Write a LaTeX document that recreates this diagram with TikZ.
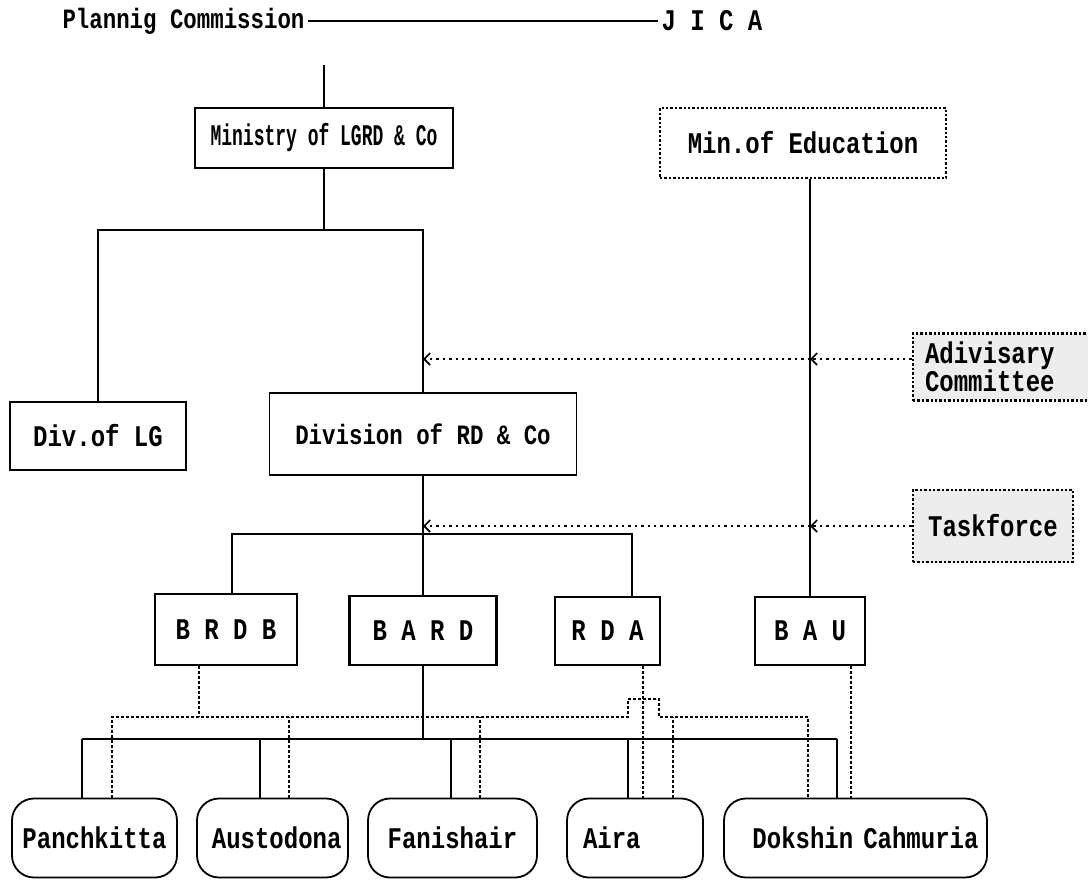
\documentclass[tikz,border=0pt]{standalone}
\usepackage{fontspec}
\newfontfamily\chartfont[FakeStretch=0.8]{Liberation Mono}
\newfontfamily\narrowfont[FakeStretch=0.6]{Liberation Mono}
\usetikzlibrary{arrows.meta}

\tikzset{
  every node/.style={font=\chartfont\bfseries\fontsize{30}{31}\selectfont},
  office/.style={draw, line width=1.8pt, inner sep=0pt},
  outside/.style={draw, dash pattern=on 2.4pt off 2pt, line width=2.4pt, inner sep=0pt},
  village/.style={draw, rounded corners=22pt, line width=1.8pt, inner sep=0pt, minimum height=79pt},
  orgline/.style={line width=1.8pt},
  dotline/.style={dash pattern=on 2.6pt off 2.4pt, line width=2.6pt},
  adviceline/.style={dash pattern=on 2.4pt off 4pt, line width=2.4pt, -{Straight Barb[length=6pt,width=12pt,line width=1.6pt]}},
}

\begin{document}
\begin{tikzpicture}[x=1pt,y=-1pt]
  \useasboundingbox (0,0) rectangle (1088,879);

  % top
  \node[anchor=east, font=\chartfont\bfseries\fontsize{28}{30}\selectfont] (plan) at (308,21) {Plannig Commission};
  \node[anchor=west] (jica) at (658,21) {J I C A};
  \draw[orgline] (plan) -- (jica);
  \coordinate (pc) at (324,65);

  % ministries
  \node[office, minimum width=258pt, minimum height=60pt, font=\narrowfont\bfseries\fontsize{30}{31}\selectfont] (min) at (324,138) {Ministry of LGRD \& Co};
  \node[outside, minimum width=286pt, minimum height=70pt] (mined) at (803,143) {Min.of Education};
  \node[office, minimum width=176pt, minimum height=68pt] (divlg) at (98,436) {Div.of LG};
  \node[office, minimum width=307pt, minimum height=82pt, font=\chartfont\bfseries\fontsize{28}{30}\selectfont] (divrd) at (423,434) {Division of RD \& Co};

  % advisory bodies
  \node[outside, fill=black!7, minimum width=187pt, minimum height=67pt, align=left, text width=163pt,
        font=\chartfont\bfseries\fontsize{30}{28}\selectfont] (adv) at (1006.5,367) {Adivisary\\Committee};
  \node[outside, fill=black!7, minimum width=160pt, minimum height=72pt] (task) at (993,526) {Taskforce};

  % institutes
  \node[office, minimum width=142pt, minimum height=71pt] (brdb) at (226,629.5) {B R D B};
  \node[office, line width=2.6pt, minimum width=147pt, minimum height=69pt] (bard) at (423,630.5) {B A R D};
  \node[office, minimum width=105pt, minimum height=68pt] (rda) at (607.5,631) {R D A};
  \node[office, minimum width=110pt, minimum height=68pt] (bau) at (810,631) {B A U};

  % villages
  \node[village, minimum width=165pt] (pan) at (94.5,838) {Panchkitta};
  \node[village, minimum width=151pt, text width=138pt, align=right] (aus) at (272.5,838) {Austodona};
  \node[village, minimum width=169pt] (fan) at (452.5,838) {Fanishair};
  \node[village, minimum width=136pt, text width=104pt, align=left] (aira) at (635,838) {Aira};
  \node[village, minimum width=263pt, text width=246pt, align=right] (dok) at (855.5,838) {Dokshin Cahmuria};

  % line of command
  \coordinate (mj) at (324,230);
  \coordinate (rb) at (423,534);
  \coordinate (sb) at (423,739);
  \coordinate (db) at (423,717);
  \draw[orgline] (pc) -- (min);
  \draw[orgline] (min) -- (mj);
  \draw[orgline] (divlg) |- (mj) -| (divrd);
  \draw[orgline] (divrd) -- (bard);
  \draw[orgline] ([xshift=6pt]brdb.north) |- (rb) -| ([xshift=24.5pt]rda.north);
  \draw[orgline] (mined.south -| bau) -- (bau);
  \draw[orgline] (bard) -- (sb);
  \draw[orgline] ([xshift=-12.5pt]pan.north |- sb) -- ([xshift=-18.5pt]dok.north |- sb);
  \foreach \v/\dx in {pan/-12.5,aus/-12.5,fan/-1.5,aira/-7,dok/-18.5}
    \draw[orgline] ([xshift=\dx pt]\v.north) -- ([xshift=\dx pt]\v.north |- sb);

  % advice
  \coordinate (advline) at (0,359);
  \draw[adviceline] (adv.west |- advline) -- (bau |- advline);
  \draw[adviceline] (bau |- advline) -- (bard |- advline);
  \draw[adviceline] (task.west) -- (task.west -| bau);
  \draw[adviceline] (task.west -| bau) -- (task.west -| bard);

  % cooperation
  \draw[dotline] ([xshift=-27pt]brdb.south) -- ([xshift=-27pt]brdb.south |- db);
  \draw[dotline] ([xshift=17.5pt]pan.north) |- (628,717) -- (628,699) -- (659,699) -- (659,717)
    -| ([xshift=-47.5pt]dok.north);
  \foreach \v/\dx in {aus/16.5,fan/27.5,aira/38}
    \draw[dotline] ([xshift=\dx pt]\v.north) -- ([xshift=\dx pt]\v.north |- db);
  \draw[dotline] ([xshift=35.5pt]rda.south) -- ([xshift=8pt]aira.north);
  \draw[dotline] ([xshift=41pt]bau.south) -- ([xshift=-4.5pt]dok.north);
\end{tikzpicture}
\end{document}
